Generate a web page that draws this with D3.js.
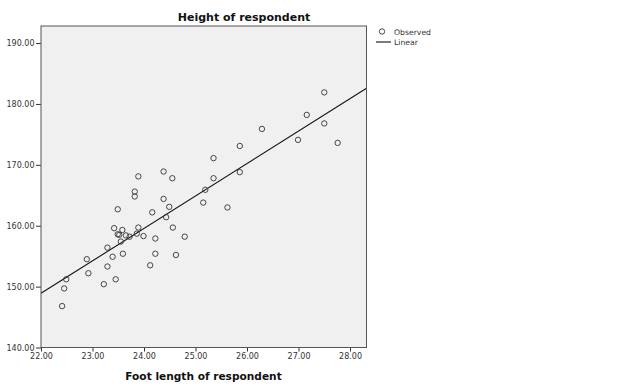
<!DOCTYPE html>
<html>
<head>
<meta charset="utf-8">
<script src="https://d3js.org/d3.v7.min.js"></script>
<style>
 body { margin: 0; background: #fff; }
 text { font-family: "DejaVu Sans", sans-serif; }
</style>
</head>
<body>
<svg width="640" height="392"></svg>
<script>
 // foot length (cm) and height (cm) of each respondent
 var footLength = [22.41, 22.45, 22.49, 22.89, 22.92, 23.22, 23.29, 23.29, 23.39, 23.45,
                   23.42, 23.49, 23.49, 23.52, 23.58, 23.55, 23.59, 23.65, 23.72, 23.86,
                   23.89, 23.89, 23.82, 23.82, 23.99, 24.12, 24.16, 24.22, 24.22, 24.38,
                   24.38, 24.49, 24.43, 24.55, 24.56, 24.62, 24.79, 25.15, 25.19, 25.35,
                   25.35, 25.62, 25.86, 25.86, 26.29, 26.99, 27.16, 27.50, 27.50, 27.76];
 var height = [146.8, 149.7, 151.2, 154.5, 152.2, 150.4, 156.4, 153.3, 154.9, 151.2,
               159.6, 162.7, 158.6, 158.5, 159.3, 157.4, 155.4, 158.4, 158.2, 158.7,
               159.7, 168.1, 165.6, 164.8, 158.3, 153.5, 162.2, 157.9, 155.4, 168.9,
               164.4, 163.1, 161.4, 167.8, 159.7, 155.2, 158.2, 163.8, 165.9, 171.1,
               167.8, 163.0, 173.1, 168.8, 175.9, 174.1, 178.2, 181.9, 176.8, 173.6];

 // linear fit: height = intercept + slope * footLength
 var fitIntercept = 31.64;
 var fitSlope = 5.33;

 var xTicks = [22, 23, 24, 25, 26, 27, 28];
 var yTicks = [140, 150, 160, 170, 180, 190];
 var legendItems = ["Observed", "Linear"];

 var points = footLength.map(function (d, i) { return [d, height[i]]; });

 var svg = d3.select("svg");
 var x = d3.scaleLinear().domain([22, 28.32]).range([41, 366.5]);
 var y = d3.scaleLinear().domain([140, 192.8]).range([347.5, 26]);

 // plot background
 svg.append("rect")
    .attr("x", x.range()[0]).attr("y", y.range()[1])
    .attr("width", x.range()[1] - x.range()[0])
    .attr("height", y.range()[0] - y.range()[1])
    .attr("fill", "#f0f0f0");

 var xAxis = svg.append("g")
    .attr("transform", "translate(0," + y.range()[0] + ")")
    .call(d3.axisBottom(x).tickValues(xTicks).tickFormat(d3.format(".2f")).tickSize(4).tickPadding(2));
 var yAxis = svg.append("g")
    .attr("transform", "translate(" + x.range()[0] + ",0)")
    .call(d3.axisLeft(y).tickValues(yTicks).tickFormat(d3.format(".2f")).tickSize(5).tickPadding(1.5));
 [xAxis, yAxis].forEach(function (g) {
     g.select(".domain").remove();
     g.selectAll(".tick line").attr("stroke", "#333");
     g.selectAll(".tick text").attr("fill", "#333")
      .style("font-family", "DejaVu Sans").style("font-size", "8px");
 });

 // regression line across the whole x range
 var lineFunction = d3.line()
    .x(function (d) { return x(d); })
    .y(function (d) { return y(fitIntercept + fitSlope * d); });
 svg.append("path")
    .attr("d", lineFunction(x.domain()))
    .attr("stroke", "#111").attr("stroke-width", 1.1).attr("fill", "none");

 svg.append("g").selectAll("circle")
    .data(points)
    .enter()
    .append("circle")
    .attr("cx", function (d) { return x(d[0]); })
    .attr("cy", function (d) { return y(d[1]); })
    .attr("r", 2.7)
    .attr("fill", "none")
    .attr("stroke", "#333")
    .attr("stroke-width", 0.9);

 // frame
 svg.append("rect")
    .attr("x", x.range()[0]).attr("y", y.range()[1])
    .attr("width", x.range()[1] - x.range()[0])
    .attr("height", y.range()[0] - y.range()[1])
    .attr("fill", "none").attr("stroke", "#555").attr("stroke-width", 1);

 svg.append("text")
    .attr("x", 244).attr("y", 21)
    .attr("text-anchor", "middle")
    .attr("font-weight", "bold").attr("font-size", "11px").attr("fill", "#111")
    .text("Height of respondent");
 svg.append("text")
    .attr("x", 203.5).attr("y", 380)
    .attr("text-anchor", "middle")
    .attr("font-weight", "bold").attr("font-size", "10.6px").attr("fill", "#111")
    .text("Foot length of respondent");

 // legend
 var legend = svg.append("g");
 legend.append("circle")
    .attr("cx", 382).attr("cy", 31.5).attr("r", 2.7)
    .attr("fill", "none").attr("stroke", "#333").attr("stroke-width", 0.9);
 legend.append("path")
    .attr("d", "M 376 42 L 391 42")
    .attr("stroke", "#111").attr("stroke-width", 1.1);
 legend.selectAll("text")
    .data(legendItems)
    .enter()
    .append("text")
    .attr("x", 394)
    .attr("y", function (d, i) { return 34.5 + i * 10; })
    .attr("font-size", "7.7px").attr("fill", "#333")
    .text(function (d) { return d; });
</script>
</body>
</html>
